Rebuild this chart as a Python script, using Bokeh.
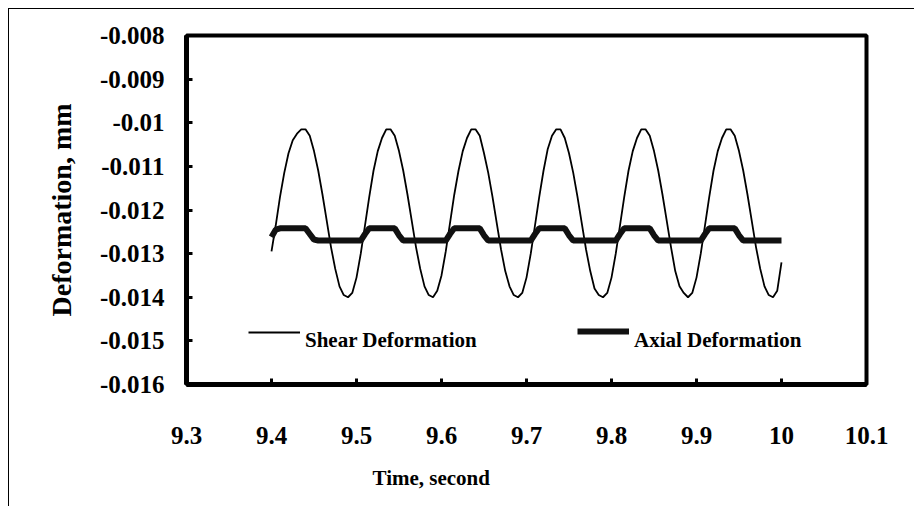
import numpy as np
from bokeh.plotting import figure
from bokeh.models import Range1d, FixedTicker, Legend, LegendItem, Title
from bokeh.embed import file_html
from bokeh.resources import INLINE

# ---- data ----
t_start = 9.40
t_step = 0.005

shear = [
    # 9.400 - 9.485
    -0.01295, -0.01235, -0.01170, -0.01115, -0.01070, -0.01040, -0.01025, -0.01015, -0.01015, -0.01030,
    -0.01065, -0.01110, -0.01165, -0.01225, -0.01285, -0.01335, -0.01375, -0.01395,
    # 9.490 - 9.585
    -0.01400, -0.01390, -0.01355, -0.01300, -0.01235, -0.01170, -0.01110, -0.01065, -0.01035, -0.01015,
    -0.01015, -0.01030, -0.01065, -0.01110, -0.01165, -0.01225, -0.01285, -0.01335, -0.01375, -0.01395,
    # 9.590 - 9.685
    -0.01400, -0.01385, -0.01350, -0.01295, -0.01230, -0.01165, -0.01110, -0.01065, -0.01035, -0.01015,
    -0.01015, -0.01030, -0.01070, -0.01115, -0.01170, -0.01230, -0.01290, -0.01340, -0.01375, -0.01395,
    # 9.690 - 9.785
    -0.01400, -0.01390, -0.01355, -0.01300, -0.01235, -0.01170, -0.01110, -0.01060, -0.01030, -0.01015,
    -0.01015, -0.01035, -0.01070, -0.01115, -0.01170, -0.01230, -0.01290, -0.01340, -0.01380, -0.01395,
    # 9.790 - 9.885
    -0.01400, -0.01390, -0.01355, -0.01300, -0.01235, -0.01170, -0.01110, -0.01065, -0.01035, -0.01015,
    -0.01015, -0.01030, -0.01065, -0.01110, -0.01165, -0.01225, -0.01285, -0.01340, -0.01375, -0.01390,
    # 9.890 - 9.985
    -0.01400, -0.01390, -0.01355, -0.01300, -0.01235, -0.01170, -0.01110, -0.01065, -0.01035, -0.01015,
    -0.01015, -0.01030, -0.01065, -0.01110, -0.01165, -0.01225, -0.01285, -0.01335, -0.01375, -0.01395,
    # 9.990 - 10.000
    -0.01400, -0.01385, -0.01320,
]

axial = [
    # 9.400 - 9.450
    -0.01262, -0.01245, -0.01242, -0.01242, -0.01242, -0.01242, -0.01242, -0.01242, -0.01242, -0.01255, -0.01268,
    # 9.455 - 9.550
    -0.01270, -0.01270, -0.01270, -0.01270, -0.01270, -0.01270, -0.01270, -0.01270, -0.01270, -0.01270,
    -0.01270, -0.01255, -0.01242, -0.01242, -0.01242, -0.01242, -0.01242, -0.01242, -0.01242, -0.01258,
    # 9.555 - 9.650
    -0.01270, -0.01270, -0.01270, -0.01270, -0.01270, -0.01270, -0.01270, -0.01270, -0.01270, -0.01270,
    -0.01270, -0.01255, -0.01242, -0.01242, -0.01242, -0.01242, -0.01242, -0.01242, -0.01242, -0.01258,
    # 9.655 - 9.750
    -0.01270, -0.01270, -0.01270, -0.01270, -0.01270, -0.01270, -0.01270, -0.01270, -0.01270, -0.01270,
    -0.01270, -0.01255, -0.01242, -0.01242, -0.01242, -0.01242, -0.01242, -0.01242, -0.01242, -0.01258,
    # 9.755 - 9.850
    -0.01270, -0.01270, -0.01270, -0.01270, -0.01270, -0.01270, -0.01270, -0.01270, -0.01270, -0.01270,
    -0.01270, -0.01255, -0.01242, -0.01242, -0.01242, -0.01242, -0.01242, -0.01242, -0.01242, -0.01258,
    # 9.855 - 9.950
    -0.01270, -0.01270, -0.01270, -0.01270, -0.01270, -0.01270, -0.01270, -0.01270, -0.01270, -0.01270,
    -0.01270, -0.01255, -0.01242, -0.01242, -0.01242, -0.01242, -0.01242, -0.01242, -0.01242, -0.01258,
    # 9.955 - 10.000
    -0.01270, -0.01270, -0.01270, -0.01270, -0.01270, -0.01270, -0.01270, -0.01270, -0.01270, -0.01270,
]

time = [round(t_start + i * t_step, 3) for i in range(len(shear))]

x_ticks = [9.3, 9.4, 9.5, 9.6, 9.7, 9.8, 9.9, 10.0, 10.1]
x_tick_labels = ["9.3", "9.4", "9.5", "9.6", "9.7", "9.8", "9.9", "10", "10.1"]
y_ticks = [-0.016, -0.015, -0.014, -0.013, -0.012, -0.011, -0.01, -0.009, -0.008]
y_tick_labels = ["-0.016", "-0.015", "-0.014", "-0.013", "-0.012", "-0.011", "-0.01", "-0.009", "-0.008"]

x_title = "Time, second"
y_title = "Deformation, mm"
series_names = ["Shear Deformation", "Axial Deformation"]

FONT = "Liberation Serif"

p = figure(width=906, height=498, output_backend="svg", toolbar_location=None,
           x_range=Range1d(9.3, 10.1), y_range=Range1d(-0.016, -0.008),
           min_border_left=177, min_border_right=49, min_border_top=26, min_border_bottom=121,
           styles={"margin-left": "8px", "margin-top": "8px",
                   "border-top": "1px solid black", "border-left": "1px solid black"})
p.grid.visible = False
p.outline_line_color = "black"
p.outline_line_width = 4
p.background_fill_color = "white"
p.border_fill_color = "white"

for ax in (p.xaxis, p.yaxis):
    ax.axis_line_width = 5
    ax.axis_line_color = "black"
    ax.major_tick_in = 6
    ax.major_tick_out = 0
    ax.major_tick_line_width = 3
    ax.minor_tick_line_color = None
    ax.major_label_text_font = FONT
    ax.major_label_text_font_style = "bold"
    ax.major_label_text_font_size = "25px"
    ax.major_label_text_color = "black"

p.xaxis.ticker = FixedTicker(ticks=x_ticks)
p.xaxis.major_label_overrides = dict(zip(x_ticks, x_tick_labels))
p.xaxis.major_label_standoff = 42
p.yaxis.ticker = FixedTicker(ticks=y_ticks)
p.yaxis.major_label_overrides = dict(zip(y_ticks, y_tick_labels))
p.yaxis.major_label_standoff = 22

p.yaxis.axis_label = y_title
p.yaxis.axis_label_text_font = FONT
p.yaxis.axis_label_text_font_style = "bold"
p.yaxis.axis_label_text_font_size = "28px"
p.yaxis.axis_label_text_color = "black"
p.yaxis.axis_label_standoff = 20

r_shear = p.line(time, shear, line_color="black", line_width=1.8)
r_axial = p.line(time, axial, line_color="#111111", line_width=6)
# invisible stand-in so the legend texts can sit a little lower than their swatches
r_blank = p.line(x=[], y=[], line_alpha=0)

def make_legend(item_label, rend, loc):
    lg = Legend(items=[LegendItem(label=item_label, renderers=[rend])], location=loc,
                orientation="horizontal", padding=0, margin=0, spacing=0,
                glyph_width=52, glyph_height=8, label_height=22, label_standoff=5,
                border_line_alpha=0, background_fill_alpha=0,
                label_text_font=FONT, label_text_font_style="bold",
                label_text_font_size="21px", label_text_color="black")
    p.add_layout(lg)

# swatches
make_legend(" ", r_shear, (62, 41))
make_legend(" ", r_axial, (391, 42))
# texts
make_legend(series_names[0], r_blank, (62, 31))
make_legend(series_names[1], r_blank, (391, 31))

xt = Title(text=x_title, align="left", offset=186, standoff=35,
           text_font=FONT, text_font_style="bold", text_font_size="21px", text_color="black")
p.add_layout(xt, "below")

open("out.html", "w").write(file_html(p, INLINE))
